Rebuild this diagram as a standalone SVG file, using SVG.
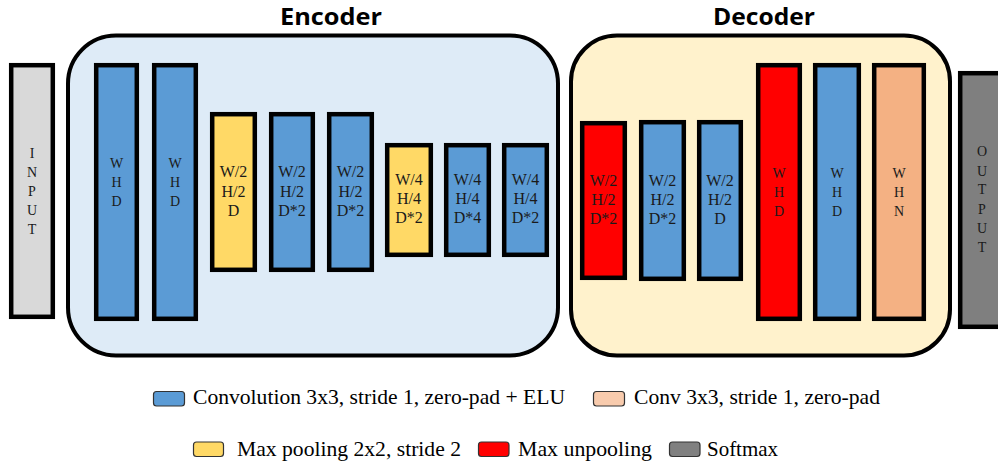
<svg xmlns="http://www.w3.org/2000/svg" width="998" height="466" viewBox="0 0 998 466">
<style>
.blk{stroke:#000;stroke-width:4.5}
.blue{fill:#5b9bd5}.yel{fill:#ffd966}.red{fill:#ff0000}.ora{fill:#f4b183}
.t{font-family:"Liberation Serif","Times New Roman",serif;font-size:16px;fill:#1a1a1a;text-anchor:middle}
.s{font-family:"Liberation Serif","Times New Roman",serif;font-size:14px;fill:#1a1a1a;text-anchor:middle}
.lg{font-family:"Liberation Serif","Times New Roman",serif;font-size:21px;fill:#000}
.sw{stroke:#333;stroke-width:1.2}
.ttl{font-family:"Open Sans","Noto Sans","Liberation Sans",sans-serif;font-weight:bold;font-size:24px;fill:#000}
</style>
<rect width="998" height="466" fill="#fff"/>
<g id="encoder">
<rect x="68" y="35.5" width="490" height="320" rx="48" fill="#deebf7" stroke="#000" stroke-width="4"/>
<text class="ttl" x="280" y="25" textLength="102" lengthAdjust="spacingAndGlyphs">Encoder</text>
</g>
<g id="decoder">
<rect x="571" y="35.5" width="379" height="320" rx="46" fill="#fff2cc" stroke="#000" stroke-width="4"/>
<text class="ttl" x="713" y="25" textLength="102" lengthAdjust="spacingAndGlyphs">Decoder</text>
</g>
<g id="input">
<rect class="blk" x="11.2" y="65.2" width="41.6" height="251.6" fill="#d9d9d9"/>
<text class="s" x="32" y="158">I</text><text class="s" x="32" y="177">N</text><text class="s" x="32" y="196">P</text><text class="s" x="32" y="215">U</text><text class="s" x="32" y="234">T</text>
</g>
<g id="e1">
<rect class="blk blue" x="96.2" y="65.2" width="40.6" height="253.6"/>
<text class="s" x="116.5" y="168">W</text><text class="s" x="116.5" y="187">H</text><text class="s" x="116.5" y="206">D</text>
</g>
<g id="e2">
<rect class="blk blue" x="154.2" y="65.2" width="41.6" height="253.6"/>
<text class="s" x="175" y="168">W</text><text class="s" x="175" y="187">H</text><text class="s" x="175" y="206">D</text>
</g>
<g id="e3">
<rect class="blk yel" x="212.2" y="114.2" width="42.6" height="155.6"/>
<text class="t" x="233.5" y="177">W/2</text><text class="t" x="233.5" y="197">H/2</text><text class="t" x="233.5" y="216">D</text>
</g>
<g id="e4">
<rect class="blk blue" x="271.2" y="114.2" width="41.6" height="155.6"/>
<text class="t" x="292" y="177">W/2</text><text class="t" x="292" y="197">H/2</text><text class="t" x="292" y="216">D*2</text>
</g>
<g id="e5">
<rect class="blk blue" x="329.2" y="114.2" width="42.6" height="155.6"/>
<text class="t" x="350.5" y="177">W/2</text><text class="t" x="350.5" y="197">H/2</text><text class="t" x="350.5" y="216">D*2</text>
</g>
<g id="e6">
<rect class="blk yel" x="387.2" y="145.2" width="43.6" height="109.6"/>
<text class="t" x="409" y="185">W/4</text><text class="t" x="409" y="204">H/4</text><text class="t" x="409" y="223">D*2</text>
</g>
<g id="e7">
<rect class="blk blue" x="446.2" y="145.2" width="42.6" height="109.6"/>
<text class="t" x="467.5" y="185">W/4</text><text class="t" x="467.5" y="204">H/4</text><text class="t" x="467.5" y="223">D*4</text>
</g>
<g id="e8">
<rect class="blk blue" x="504.2" y="145.2" width="42.6" height="109.6"/>
<text class="t" x="525.5" y="185">W/4</text><text class="t" x="525.5" y="204">H/4</text><text class="t" x="525.5" y="223">D*2</text>
</g>
<g id="d1">
<rect class="blk red" x="582.2" y="123.2" width="42.6" height="154.6"/>
<text class="t" x="603.5" y="186">W/2</text><text class="t" x="603.5" y="205">H/2</text><text class="t" x="603.5" y="224">D*2</text>
</g>
<g id="d2">
<rect class="blk blue" x="641.2" y="122.2" width="42.6" height="156.6"/>
<text class="t" x="662.5" y="186">W/2</text><text class="t" x="662.5" y="205">H/2</text><text class="t" x="662.5" y="224">D*2</text>
</g>
<g id="d3">
<rect class="blk blue" x="699.2" y="122.2" width="41.6" height="156.6"/>
<text class="t" x="720" y="186">W/2</text><text class="t" x="720" y="205">H/2</text><text class="t" x="720" y="224">D</text>
</g>
<g id="d4">
<rect class="blk red" x="758.2" y="65.2" width="41.6" height="253.6"/>
<text class="s" x="779" y="178">W</text><text class="s" x="779" y="197">H</text><text class="s" x="779" y="216">D</text>
</g>
<g id="d5">
<rect class="blk blue" x="815.2" y="65.2" width="43.6" height="253.6"/>
<text class="s" x="837" y="178">W</text><text class="s" x="837" y="197">H</text><text class="s" x="837" y="216">D</text>
</g>
<g id="d6">
<rect class="blk ora" x="874.2" y="65.2" width="49.6" height="253.6"/>
<text class="s" x="899" y="178">W</text><text class="s" x="899" y="197">H</text><text class="s" x="899" y="216">N</text>
</g>
<g id="output">
<rect class="blk" x="960.2" y="73.2" width="44" height="253.6" fill="#7f7f7f"/>
<text class="s" x="982" y="156">O</text><text class="s" x="982" y="176">U</text><text class="s" x="982" y="194">T</text><text class="s" x="982" y="214">P</text><text class="s" x="982" y="233">U</text><text class="s" x="982" y="252">T</text>
</g>
<g id="connectors"></g>
<g id="legend">
<rect class="sw" x="153.5" y="391.5" width="31" height="14.5" rx="3" fill="#5b9bd5"/>
<text class="lg" x="193" y="404" textLength="372" lengthAdjust="spacingAndGlyphs">Convolution 3x3, stride 1, zero-pad + ELU</text>
<rect class="sw" x="593.5" y="391.5" width="31" height="14.5" rx="3" fill="#f8cbad"/>
<text class="lg" x="634" y="404" textLength="246" lengthAdjust="spacingAndGlyphs">Conv 3x3, stride 1, zero-pad</text>
<rect class="sw" x="193.5" y="442" width="30" height="14.5" rx="3" fill="#ffd966"/>
<text class="lg" x="237" y="456" textLength="224" lengthAdjust="spacingAndGlyphs">Max pooling 2x2, stride 2</text>
<rect class="sw" x="478.5" y="442" width="30.5" height="14.5" rx="3" fill="#ff0000"/>
<text class="lg" x="518" y="456" textLength="134" lengthAdjust="spacingAndGlyphs">Max unpooling</text>
<rect class="sw" x="669.5" y="442" width="30.5" height="14.5" rx="3" fill="#808080"/>
<text class="lg" x="707" y="456" textLength="71" lengthAdjust="spacingAndGlyphs">Softmax</text>
</g>
</svg>
